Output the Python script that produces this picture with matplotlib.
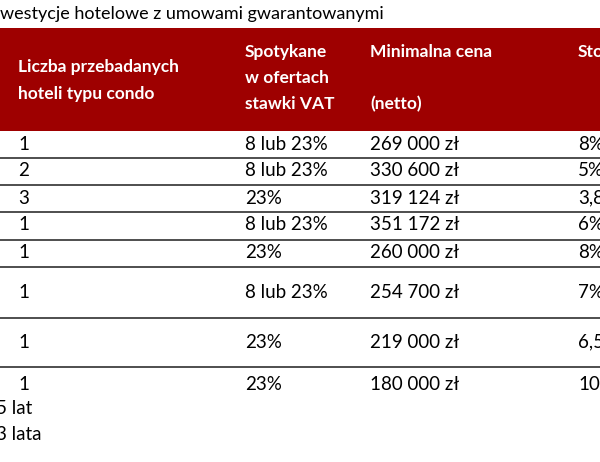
import matplotlib.pyplot as plt
from matplotlib.patches import Rectangle

title = "westycje hotelowe z umowami gwarantowanymi"
hotels = ["1", "2", "3", "1", "1", "1", "1", "1"]
vat = ["8 lub 23%", "8 lub 23%", "23%", "8 lub 23%", "23%", "8 lub 23%", "23%", "23%"]
prices = ["269 000 zł", "330 600 zł", "319 124 zł", "351 172 zł", "260 000 zł",
          "254 700 zł", "219 000 zł", "180 000 zł"]
rates = ["8%", "5%", "3,8", "6%", "8%", "7%", "6,5", "10"]
footnotes = ["5 lat", "3 lata"]

row_y = [145, 171, 198, 225, 253, 293, 342, 384]
line_y = [158, 185, 212, 240, 267, 318, 367]
col_x = [18, 245, 370, 578]

RED = "#9e0000"
FONT = "Lato"

fig = plt.figure(figsize=(6, 4.62), dpi=100)
ax = fig.add_axes([0, 0, 1, 1])
ax.set_xlim(0, 600)
ax.set_ylim(462, 0)
ax.axis("off")

ax.text(0, 14, title, fontsize=13, family=FONT, va="center", ha="left")
ax.add_patch(Rectangle((0, 28), 600, 103, color=RED, lw=0))

hdr = dict(color="white", fontsize=12.5, fontweight="bold", family=FONT, va="center", ha="left")
ax.text(col_x[0], 67, "Liczba przebadanych", **hdr)
ax.text(col_x[0], 94, "hoteli typu condo", **hdr)
for y, s in zip([52, 78, 104], ["Spotykane", "w ofertach", "stawki VAT"]):
    ax.text(col_x[1], y, s, **hdr)
ax.text(col_x[2], 52, "Minimalna cena", **hdr)
ax.text(col_x[2], 104, "(netto)", **hdr)
ax.text(col_x[3], 52, "Sto", **hdr)

cell = dict(fontsize=13.5, family=FONT, va="center", ha="left", color="black")
for i, y in enumerate(row_y):
    for x, col in zip(col_x, [hotels, vat, prices, rates]):
        ax.text(x, y, col[i], **cell)

for y in line_y:
    ax.plot([0, 600], [y, y], color="#404040", lw=1.3)

for y, s in zip([408, 434], footnotes):
    ax.text(-4, y, s, **cell)

fig.savefig("out.png", dpi=100)
